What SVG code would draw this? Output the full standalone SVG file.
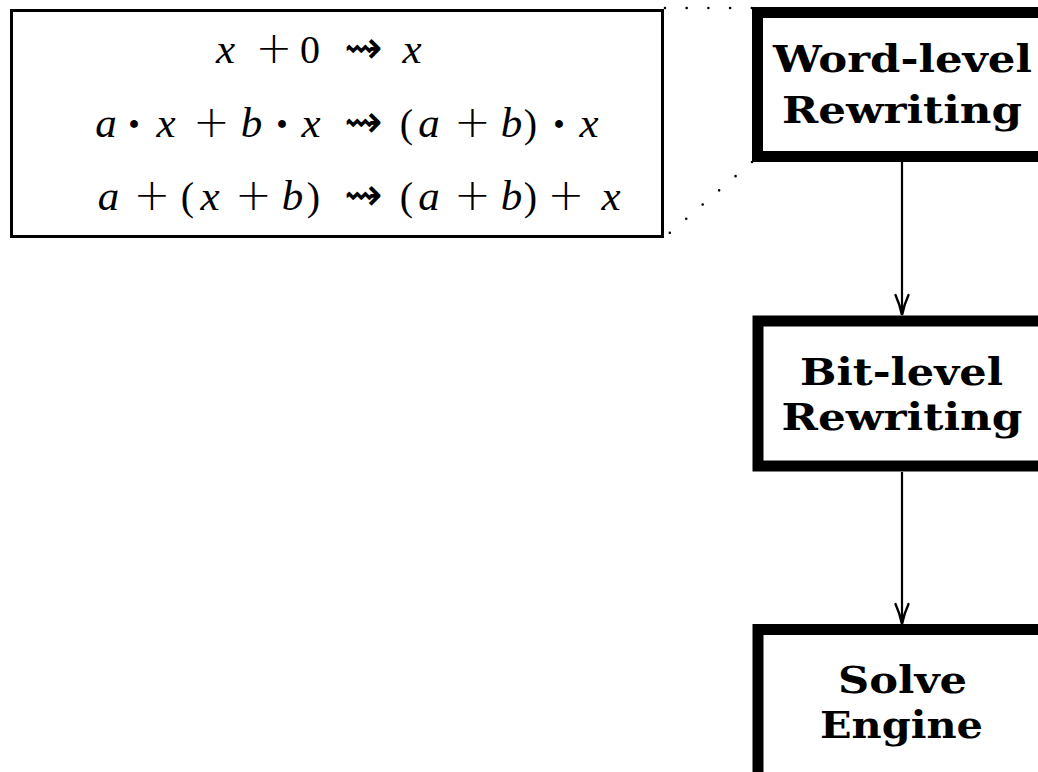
<svg xmlns="http://www.w3.org/2000/svg" width="1038" height="772" viewBox="0 0 1038 772">
<style>
.math{font-family:"Liberation Serif","DejaVu Serif",serif;font-size:40px;fill:#000;text-anchor:middle}
.v{font-style:italic;font-size:43px}
.op{font-family:"DejaVu Sans",sans-serif;font-size:44px;font-weight:200}
.dt{font-family:"Liberation Serif",serif;font-size:48px;font-weight:bold}
.ar{font-family:"DejaVu Sans",sans-serif;font-size:46px}
.lbl{font-family:"DejaVu Serif","Liberation Serif",serif;font-weight:bold;font-size:38px;fill:#000;text-anchor:middle}
.node{fill:#fff;stroke:#000;stroke-width:11}
.dot{fill:none;stroke:#000;stroke-width:2.6;stroke-linecap:round;stroke-dasharray:0 21.7}
.edge{fill:none;stroke:#000;stroke-width:2.2}
.head{fill:none;stroke:#000;stroke-width:2.4;stroke-linecap:round}
</style>
<rect width="1038" height="772" fill="#fff"/>
<g id="rules">
<rect x="11.5" y="10.5" width="651" height="226" fill="#fff" stroke="#000" stroke-width="3"/>
<text class="math" y="63"><tspan class="v" x="225.5">x</tspan><tspan class="op" x="274">+</tspan><tspan x="310">0</tspan><tspan class="ar" x="363.5">⇝</tspan><tspan class="v" x="412">x</tspan></text>
<text class="math" y="137"><tspan class="v" x="106">a</tspan><tspan class="dt" x="134" y="140">·</tspan><tspan class="v" x="166" y="137">x</tspan><tspan class="op" x="211.5">+</tspan><tspan class="v" x="251.5">b</tspan><tspan class="dt" x="282" y="140">·</tspan><tspan class="v" x="311" y="137">x</tspan><tspan class="ar" x="363.5">⇝</tspan><tspan x="406.5">(</tspan><tspan class="v" x="429">a</tspan><tspan class="op" x="472.5">+</tspan><tspan class="v" x="511.5">b</tspan><tspan x="530.5">)</tspan><tspan class="dt" x="559" y="140">·</tspan><tspan class="v" x="589" y="137">x</tspan></text>
<text class="math" y="210"><tspan class="v" x="108.5">a</tspan><tspan class="op" x="152">+</tspan><tspan x="187.5">(</tspan><tspan class="v" x="210">x</tspan><tspan class="op" x="253.5">+</tspan><tspan class="v" x="292.5">b</tspan><tspan x="313.5">)</tspan><tspan class="ar" x="363.5">⇝</tspan><tspan x="406.5">(</tspan><tspan class="v" x="429">a</tspan><tspan class="op" x="472.5">+</tspan><tspan class="v" x="511.5">b</tspan><tspan x="530.5">)</tspan><tspan class="op" x="566">+</tspan><tspan class="v" x="611">x</tspan></text>
</g>
<g id="zoom-lines">
<path class="dot" d="M665,8 L752,8"/>
<path class="dot" d="M752,162 L665,237"/>
</g>
<g id="word-level">
<rect class="node" x="757.5" y="12.5" width="300" height="144"/>
<text class="lbl" x="902.5" y="72" textLength="259" lengthAdjust="spacingAndGlyphs">Word-level</text>
<text class="lbl" x="902" y="123" textLength="240" lengthAdjust="spacingAndGlyphs">Rewriting</text>
</g>
<g id="bit-level">
<rect class="node" x="758" y="321" width="300" height="145"/>
<text class="lbl" x="901.5" y="385" textLength="203" lengthAdjust="spacingAndGlyphs">Bit-level</text>
<text class="lbl" x="902" y="430" textLength="241" lengthAdjust="spacingAndGlyphs">Rewriting</text>
</g>
<g id="solve-engine">
<rect class="node" x="758" y="629.5" width="300" height="200"/>
<text class="lbl" x="902.5" y="693" textLength="129" lengthAdjust="spacingAndGlyphs">Solve</text>
<text class="lbl" x="901.5" y="738" textLength="163" lengthAdjust="spacingAndGlyphs">Engine</text>
</g>
<g id="connectors">
<path class="edge" d="M902,162 L902,314"/>
<path class="head" d="M895.5,295 Q900,305 902,315 Q904,305 908.5,295"/>
<path class="edge" d="M902,472 L902,623"/>
<path class="head" d="M895.5,604 Q900,614 902,624 Q904,614 908.5,604"/>
</g>
</svg>
